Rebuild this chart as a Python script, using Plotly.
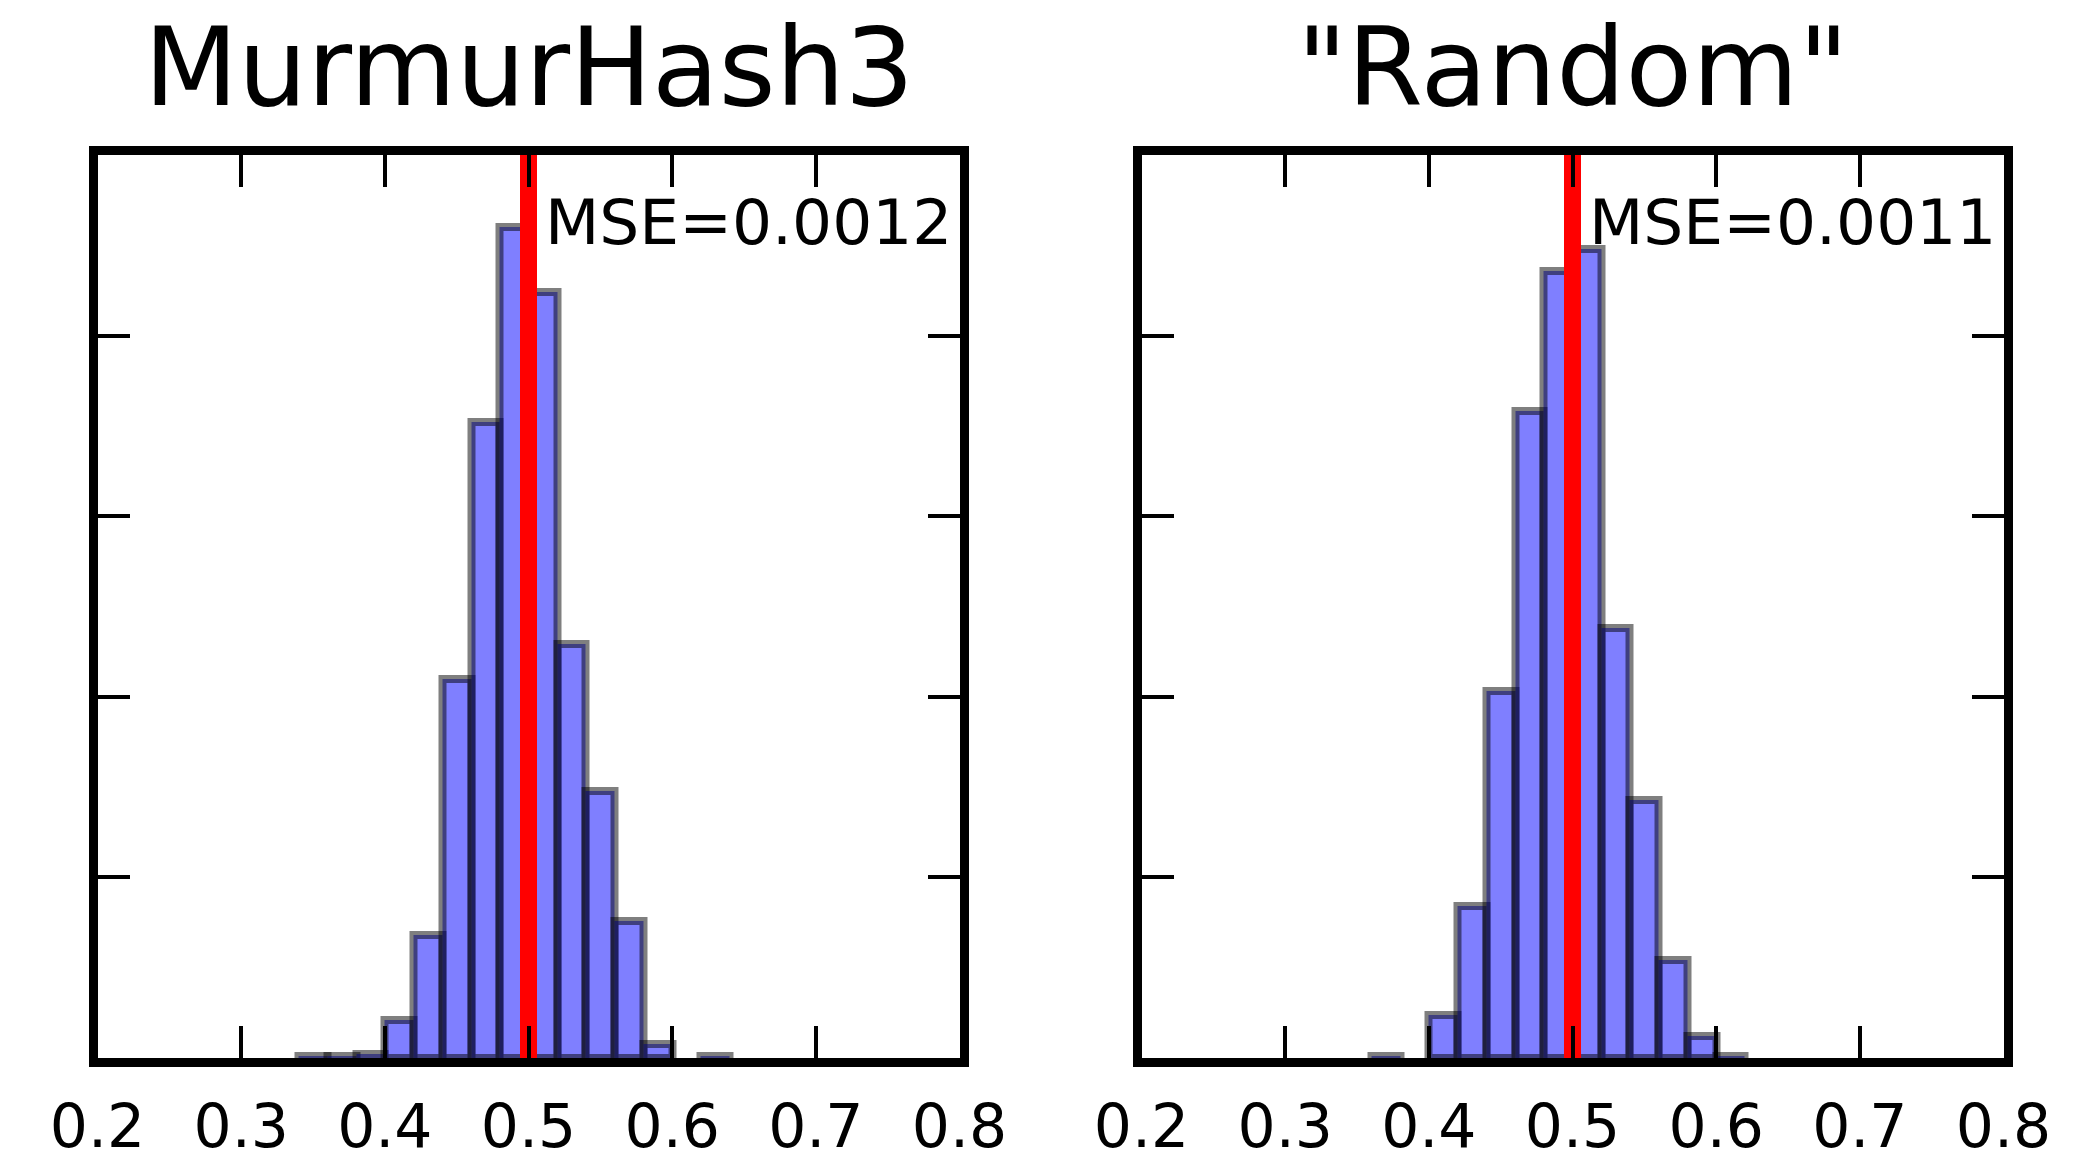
import plotly.graph_objects as go

# ---------------- data ----------------
BIN_WIDTH = 0.02
bin_left_mm3 = [0.34, 0.36, 0.38, 0.40, 0.42, 0.44, 0.46, 0.48, 0.50, 0.52, 0.54, 0.56, 0.58, 0.62]
counts_mm3   = [1, 1, 2, 21, 68, 210, 352, 460, 424, 229, 148, 76, 8, 1]

bin_left_rnd = [0.36, 0.40, 0.42, 0.44, 0.46, 0.48, 0.50, 0.52, 0.54, 0.56, 0.58, 0.60]
counts_rnd   = [1, 24, 84, 203, 358, 436, 448, 238, 143, 54, 12, 1]

titles = ["MurmurHash3", "\"Random\""]
mse_labels = ["MSE=0.0012", "MSE=0.0011"]
true_value = 0.5

x_tickvals = [0.2, 0.3, 0.4, 0.5, 0.6, 0.7, 0.8]
x_ticktext = ["0.2", "0.3", "0.4", "0.5", "0.6", "0.7", "0.8"]
y_tickvals = [0, 100, 200, 300, 400, 500]

# ---------------- layout constants ----------------
W, H = 2080, 1151
FONT = "DejaVu Sans, Bitstream Vera Sans, sans-serif"
LW = 9
half = LW / 2
left_dom = [(93 + half) / W, (964 - half) / W]
right_dom = [(1137 + half) / W, (2008 - half) / W]
y_dom = [(H - 1062.5 + half) / H, (H - 150.5 - half) / H]

fig = go.Figure()

datasets = [(bin_left_mm3, counts_mm3), (bin_left_rnd, counts_rnd)]
for i, (lefts, cnts) in enumerate(datasets):
    xa = "x" if i == 0 else "x2"
    ya = "y" if i == 0 else "y2"
    centers = [l + BIN_WIDTH / 2 for l in lefts]
    fig.add_trace(go.Bar(
        x=centers, y=cnts, width=[BIN_WIDTH] * len(centers),
        marker=dict(color="rgba(0,0,255,0.5)",
                    line=dict(color="rgba(0,0,0,0.5)", width=8)),
        xaxis=xa, yaxis=ya, showlegend=False, hoverinfo="skip",
    ))
    fig.add_trace(go.Scatter(
        x=[true_value, true_value], y=[0, 500], mode="lines",
        line=dict(color="#ff0000", width=17),
        xaxis=xa, yaxis=ya, showlegend=False, hoverinfo="skip",
        cliponaxis=True,
    ))

axis_common = dict(
    showline=True, linewidth=LW, linecolor="black", mirror="allticks",
    ticks="inside", ticklen=32, tickwidth=4, tickcolor="black",
    showgrid=False, zeroline=False, automargin=False,
)

xtick_font = dict(size=60, family=FONT, color="black")
fig.update_layout(
    width=W, height=H,
    margin=dict(l=0, r=0, t=0, b=0, pad=0),
    paper_bgcolor="white", plot_bgcolor="white",
    bargap=0,
    font=dict(family=FONT, color="black"),
    xaxis=dict(domain=left_dom, range=[0.2, 0.8], tickvals=x_tickvals, ticktext=x_ticktext,
               tickfont=xtick_font, ticklabelstandoff=8, anchor="y", **axis_common),
    xaxis2=dict(domain=right_dom, range=[0.2, 0.8], tickvals=x_tickvals, ticktext=x_ticktext,
                tickfont=xtick_font, ticklabelstandoff=8, anchor="y2", **axis_common),
    yaxis=dict(domain=y_dom, range=[0, 500], tickvals=y_tickvals, showticklabels=False,
               anchor="x", **axis_common),
    yaxis2=dict(domain=y_dom, range=[0, 500], tickvals=y_tickvals, showticklabels=False,
                anchor="x2", **axis_common),
)

title_x = [(left_dom[0] + left_dom[1]) / 2, (right_dom[0] + right_dom[1]) / 2]
for i in range(2):
    fig.add_annotation(text=titles[i], xref="paper", yref="paper",
                       x=title_x[i], y=(H - 67.5) / H, xanchor="center", yanchor="middle",
                       showarrow=False, font=dict(size=109, family=FONT, color="black"))
    fig.add_annotation(text=mse_labels[i], xref="x" if i == 0 else "x2",
                       yref="y" if i == 0 else "y2",
                       x=0.51, y=462.8, xanchor="left", yanchor="middle",
                       showarrow=False, font=dict(size=63, family=FONT, color="black"))

fig.write_html("out.html", config={"displayModeBar": False},
               post_script="document.body.style.margin='0';")
